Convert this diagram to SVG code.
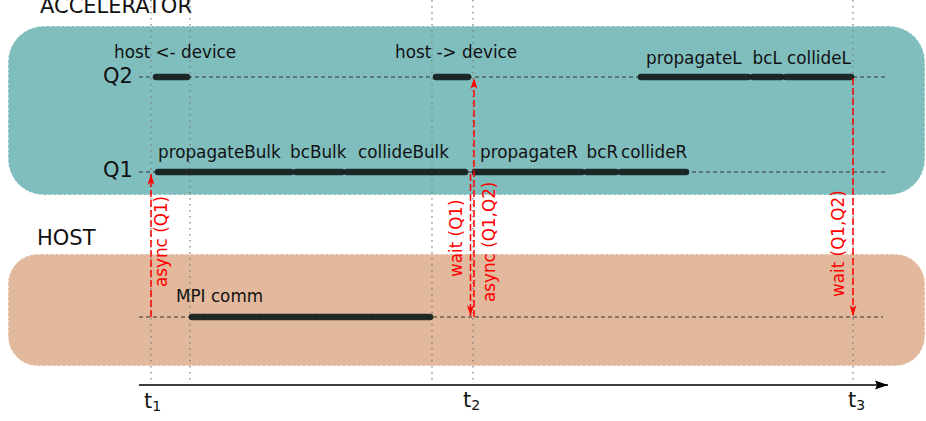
<svg xmlns="http://www.w3.org/2000/svg" width="926" height="421" viewBox="0 0 926 421">
<style>
.lbl{font-family:"DejaVu Sans","Liberation Sans",sans-serif;font-size:16.8px;fill:#111}
.big{font-family:"DejaVu Sans","Liberation Sans",sans-serif;font-size:21px;fill:#111}
.red{font-family:"DejaVu Sans","Liberation Sans",sans-serif;font-size:16.8px;fill:#ff0000}
.box{stroke:#ffffff;stroke-width:1;stroke-dasharray:3,2}
.lane{stroke:#333;stroke-width:1.2;stroke-dasharray:4,3;fill:none}
.bar{stroke:#141c1c;stroke-width:6.5;stroke-linecap:round;opacity:0.92;fill:none}
.vdot{stroke:#7a7a7a;stroke-width:1.2;stroke-dasharray:1.5,4.5;fill:none}
.rarrow{stroke:#ff0000;stroke-width:1.5;stroke-dasharray:7,3;fill:none}
</style>
<defs>
<marker id="rh" markerUnits="userSpaceOnUse" markerWidth="12" markerHeight="8" refX="11" refY="4" orient="auto">
<path d="M0,0.5 L11,4 L0,7.5 L3,4 Z" fill="#ff0000"/>
</marker>
<marker id="kh" markerUnits="userSpaceOnUse" markerWidth="14" markerHeight="10" refX="13" refY="5" orient="auto">
<path d="M0,0.5 L13,5 L0,9.5 L2,5 Z" fill="#000"/>
</marker>
</defs>

<g id="accelerator">
<rect class="box" x="8" y="26" width="917" height="169" rx="36" ry="36" fill="#80bebe"/>
<text class="big" x="40" y="13">ACCELERATOR</text>
</g>
<g id="host">
<rect class="box" x="8" y="254" width="917" height="112" rx="30" ry="30" fill="#e3b99d"/>
<text class="big" x="37" y="245">HOST</text>
</g>

<g id="guides">
<line class="vdot" x1="151" y1="0" x2="151" y2="383"/>
<line class="vdot" x1="190" y1="0" x2="190" y2="383"/>
<line class="vdot" x1="432" y1="0" x2="432" y2="383"/>
<line class="vdot" x1="473" y1="0" x2="473" y2="383"/>
<line class="vdot" x1="853" y1="0" x2="853" y2="383"/>
</g>

<g id="lanes">
<text class="big" x="103" y="83">Q2</text>
<line class="lane" x1="139" y1="77" x2="885" y2="77"/>
<text class="big" x="103" y="177">Q1</text>
<line class="lane" x1="139" y1="172" x2="885" y2="172"/>
<line class="lane" x1="139" y1="317" x2="883" y2="317"/>
</g>

<g id="q2-tasks">
<line class="bar" x1="156" y1="77" x2="187" y2="77"/>
<text class="lbl" x="114" y="58">host &lt;- device</text>
<line class="bar" x1="436" y1="77" x2="468" y2="77"/>
<text class="lbl" x="395" y="57.5">host -&gt; device</text>
<line class="bar" x1="641" y1="77" x2="748" y2="77"/>
<text class="lbl" x="646" y="64">propagateL</text>
<line class="bar" x1="753" y1="77" x2="781" y2="77"/>
<text class="lbl" x="752.5" y="64">bcL</text>
<line class="bar" x1="786" y1="77" x2="851" y2="77"/>
<text class="lbl" x="787" y="64">collideL</text>
</g>

<g id="q1-tasks">
<line class="bar" x1="158" y1="172" x2="291" y2="172"/>
<text class="lbl" x="158" y="157.5">propagateBulk</text>
<line class="bar" x1="296" y1="172" x2="342" y2="172"/>
<text class="lbl" x="290" y="157.5">bcBulk</text>
<line class="bar" x1="347" y1="172" x2="465" y2="172"/>
<text class="lbl" x="358" y="157.5">collideBulk</text>
<line class="bar" x1="475" y1="172" x2="582" y2="172"/>
<text class="lbl" x="480" y="157.5">propagateR</text>
<line class="bar" x1="587" y1="172" x2="616" y2="172"/>
<text class="lbl" x="586.5" y="157.5">bcR</text>
<line class="bar" x1="621" y1="172" x2="686" y2="172"/>
<text class="lbl" x="621" y="157.5">collideR</text>
</g>

<g id="host-tasks">
<line class="bar" x1="192" y1="317" x2="430" y2="317"/>
<text class="lbl" x="176" y="301.5">MPI comm</text>
</g>

<g id="connectors">
<line class="rarrow" x1="151" y1="317" x2="151" y2="174" marker-end="url(#rh)"/>
<line class="rarrow" x1="470.5" y1="174" x2="470.5" y2="316" marker-end="url(#rh)"/>
<line class="rarrow" x1="474" y1="317" x2="474" y2="78" marker-end="url(#rh)"/>
<line class="rarrow" x1="853" y1="78" x2="853" y2="316" marker-end="url(#rh)"/>
<line x1="139" y1="385" x2="888" y2="385" stroke="#000" stroke-width="1.3" marker-end="url(#kh)"/>
</g>

<g id="arrow-labels">
<text class="red" transform="translate(167,287) rotate(-90)">async (Q1)</text>
<text class="red" transform="translate(462,277) rotate(-90)">wait (Q1)</text>
<text class="red" transform="translate(494.5,302) rotate(-90)">async (Q1,Q2)</text>
<text class="red" transform="translate(843.5,297) rotate(-90)">wait (Q1,Q2)</text>
</g>

<g id="time-labels">
<text class="big" x="144" y="408" font-size="20">t<tspan font-size="14" dy="3">1</tspan></text>
<text class="big" x="463" y="407" font-size="20">t<tspan font-size="14" dy="3">2</tspan></text>
<text class="big" x="848" y="407" font-size="20">t<tspan font-size="14" dy="3">3</tspan></text>
</g>
</svg>
